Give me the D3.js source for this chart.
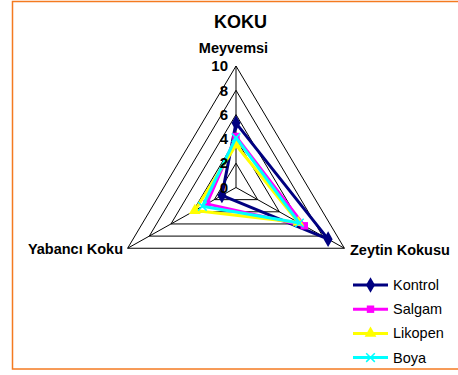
<!DOCTYPE html>
<html>
<head>
<meta charset="utf-8">
<script src="https://cdn.jsdelivr.net/npm/d3@7"></script>
<style>
  body { margin: 0; background: #fff; }
  text { font-family: "Liberation Sans", Arial, sans-serif; }
</style>
</head>
<body>
<div id="chart"></div>
<script>
const axesNames = ['Meyvemsi', 'Zeytin Kokusu', 'Yabancı Koku'];
const ticks = [0, 2, 4, 6, 8, 10];
const seriesNames = ['Kontrol', 'Salgam', 'Likopen', 'Boya'];
const kontrol = [5.3, 8.5, 1.3];
const salgam = [4.2, 6.3, 2.7];
const likopen = [3.5, 5.75, 3.8];
const boya = [4.1, 5.85, 3.1];
const colors = ['#000080', '#ff00ff', '#ffff00', '#00ffff'];
const symbols = [d3.symbolDiamond, d3.symbolSquare, d3.symbolTriangle, d3.symbolX];

const width = 458, height = 375;
const cx = 236, cy = 187.5;
const R = 121.5;
const kx = 1.03; // excel stretches the plot a bit sideways

const svg = d3.select('#chart').append('svg')
  .attr('width', width).attr('height', height);

// frame (chart is cut off at the right)
svg.append('rect')
  .attr('x', 12.5).attr('y', 1.5)
  .attr('width', 460).attr('height', 367.5)
  .attr('fill', 'none').attr('stroke', '#f47a20').attr('stroke-width', 1.5);

const r = d3.scaleLinear().domain([0, 10]).range([0, R]);
const angle = d3.scalePoint().domain(axesNames).range([0, 4 * Math.PI / 3]);

function pt(name, v) {
  const a = angle(name);
  return [cx + r(v) * Math.sin(a) * kx, cy - r(v) * Math.cos(a)];
}

// rings
ticks.filter(t => t > 0).forEach(t => {
  svg.append('path')
    .attr('d', d3.line()(axesNames.map(n => pt(n, t))) + 'Z')
    .attr('fill', 'none').attr('stroke', '#000').attr('stroke-width', 1);
});

// spokes
axesNames.forEach(n => {
  const p = pt(n, 10);
  svg.append('line')
    .attr('x1', cx).attr('y1', cy).attr('x2', p[0]).attr('y2', p[1])
    .attr('stroke', '#000').attr('stroke-width', 1);
});

// series
const allSeries = [kontrol, salgam, likopen, boya];
const markerSize = [70, 55, 60, 50];
allSeries.forEach((vals, i) => {
  const pts = axesNames.map((n, j) => pt(n, vals[j]));
  svg.append('path')
    .attr('d', d3.line()(pts) + 'Z')
    .attr('fill', 'none').attr('stroke', colors[i]).attr('stroke-width', 3)
    .attr('stroke-linejoin', 'round');
  svg.selectAll('.m' + i)
    .data(pts)
    .join('path')
    .attr('class', 'm' + i)
    .attr('transform', d => `translate(${d[0]},${d[1]})`)
    .attr('d', d3.symbol().type(symbols[i]).size(markerSize[i]))
    .attr('fill', i === 3 ? 'none' : colors[i])
    .attr('stroke', colors[i]).attr('stroke-width', i === 3 ? 1.5 : 0);
});

// tick labels on top spoke
svg.selectAll('.tick')
  .data(ticks)
  .join('text')
  .attr('class', 'tick')
  .attr('x', cx - 8)
  .attr('y', d => cy - r(d))
  .attr('dy', '0.35em')
  .attr('text-anchor', 'end')
  .attr('font-size', 15).attr('font-weight', 'bold')
  .text(d => d);

// axis labels
svg.append('text').attr('x', 233.5).attr('y', 53)
  .attr('text-anchor', 'middle').attr('font-size', 14.5).attr('font-weight', 'bold')
  .text(axesNames[0]);
svg.append('text').attr('x', 350).attr('y', 254.5)
  .attr('text-anchor', 'start').attr('font-size', 14.5).attr('font-weight', 'bold')
  .text(axesNames[1]);
svg.append('text').attr('x', 123).attr('y', 254)
  .attr('text-anchor', 'end').attr('font-size', 14.5).attr('font-weight', 'bold')
  .text(axesNames[2]);

// title
svg.append('text').attr('x', 240.5).attr('y', 28)
  .attr('text-anchor', 'middle').attr('font-size', 18).attr('font-weight', 'bold')
  .text('KOKU');

// legend
const leg = svg.append('g').attr('transform', 'translate(353,285)');
seriesNames.forEach((s, i) => {
  const g = leg.append('g').attr('transform', `translate(0,${i * 24.2})`);
  g.append('line').attr('x1', 0).attr('x2', 35).attr('y1', 0).attr('y2', 0)
    .attr('stroke', colors[i]).attr('stroke-width', 3);
  g.append('path').attr('transform', 'translate(17.5,0)')
    .attr('d', d3.symbol().type(symbols[i]).size(markerSize[i]))
    .attr('fill', i === 3 ? 'none' : colors[i])
    .attr('stroke', colors[i]).attr('stroke-width', i === 3 ? 1.5 : 0);
  g.append('text').attr('x', 40).attr('y', 0).attr('dy', '0.35em')
    .attr('font-size', 14.5).text(s);
});
</script>
</body>
</html>
